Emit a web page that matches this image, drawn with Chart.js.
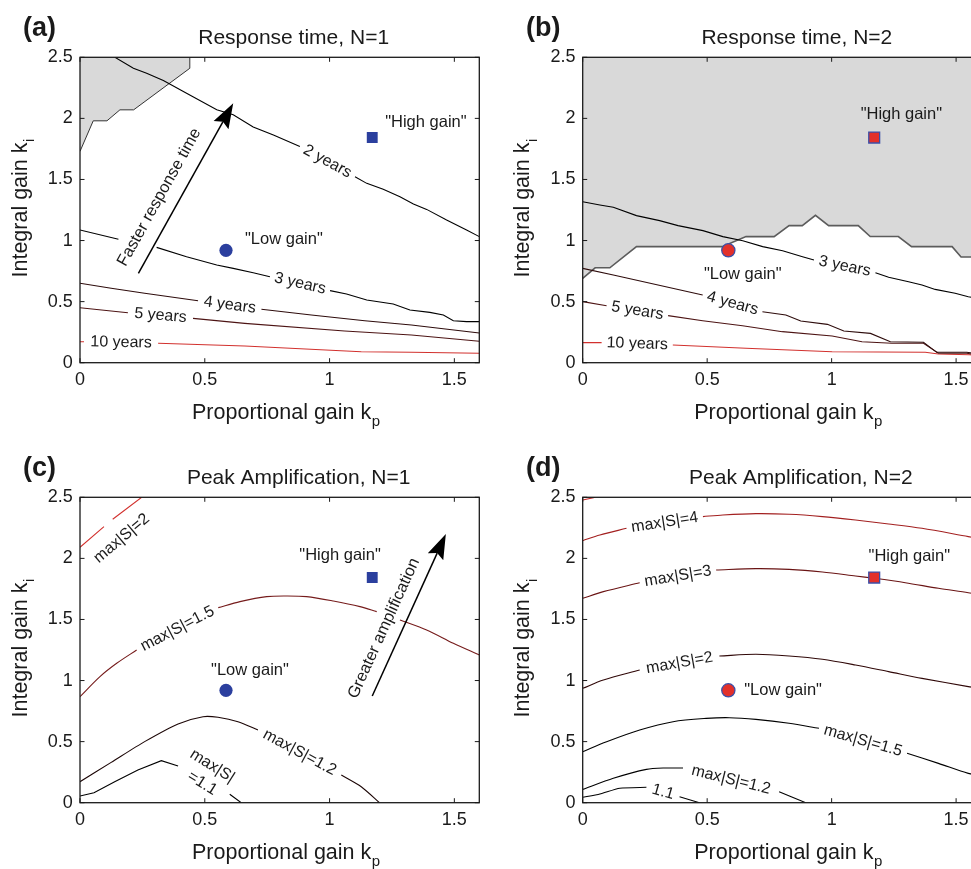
<!DOCTYPE html>
<html>
<head>
<meta charset="utf-8">
<title>Response time and peak amplification</title>
<script src="https://cdn.jsdelivr.net/npm/chart.js@4.4.1/dist/chart.umd.min.js"></script>
<style>
  html, body { margin:0; padding:0; background:#ffffff; width:971px; height:869px; overflow:hidden; position:relative; }
  canvas { position:absolute; display:block; }
</style>
</head>
<body>
<canvas id="chartA" width="490" height="440" style="left:0px;top:0px;"></canvas>
<canvas id="chartB" width="500" height="440" style="left:490px;top:0px;"></canvas>
<canvas id="chartC" width="490" height="429" style="left:0px;top:440px;"></canvas>
<canvas id="chartD" width="500" height="429" style="left:490px;top:440px;"></canvas>
<script>
// ---------------- data ----------------
const kpTicks = [0, 0.5, 1, 1.5];
const kpTickLabels = ['0', '0.5', '1', '1.5'];
const kiTicks = [0, 0.5, 1, 1.5, 2, 2.5];
const kiTickLabels = ['0', '0.5', '1', '1.5', '2', '2.5'];
const kpMin = 0, kpMax = 1.6, kiMin = 0, kiMax = 2.5;

const lowGain = [0.585, 0.92];
const highGain = [1.171, 1.843];

// (a) Response time, N=1   (null = break in the contour line)
const aUnstable = [[0,1.73],[0.053,1.98],[0.108,1.98],[0.16,2.07],[0.215,2.07],[0.44,2.41],[0.44,2.5]];
const a2years = [[0.14,2.5],[0.214,2.41],[0.267,2.37],[0.334,2.31],[0.427,2.205],[0.548,2.07],[0.614,2.03],[0.694,1.93],[0.775,1.864],[0.881,1.77],null,[1.102,1.523],[1.149,1.468],[1.215,1.419],[1.282,1.359],[1.336,1.299],[1.389,1.255],[1.469,1.168],[1.549,1.086],[1.6,1.032]];
const a3years = [[0,1.086],[0.154,1.01],null,[0.307,0.944],[0.427,0.868],[0.548,0.80],[0.614,0.772],[0.694,0.737],[0.761,0.704],null,[1.002,0.59],[1.068,0.562],[1.149,0.513],[1.255,0.48],[1.322,0.431],[1.402,0.412],[1.456,0.39],[1.496,0.344],[1.549,0.336],[1.6,0.336]];
const a4years = [[0,0.65],[0.125,0.609],[0.259,0.568],[0.473,0.507],null,[0.727,0.437],[0.927,0.39],[1.141,0.344],[1.328,0.309],[1.6,0.243]];
const a5years = [[0,0.45],[0.192,0.409],null,[0.453,0.363],[0.66,0.322],[1.06,0.259],[1.328,0.227],[1.6,0.175]];
const a10years = [[0,0.172],[0.016,0.172],null,[0.313,0.159],[0.66,0.137],[1.127,0.09],[1.328,0.085],[1.6,0.077]];

// (b) Response time, N=2
const bUnstable = [[0,0.69],[0.05,0.777],[0.109,0.777],[0.216,0.95],[0.56,0.95],[0.656,1.032],[0.769,1.032],[0.829,1.122],[0.882,1.122],[0.935,1.207],[0.988,1.122],[1.107,1.122],[1.155,1.033],[1.268,1.033],[1.321,0.95],[1.484,0.95],[1.52,0.865],[1.6,0.865]];
const b3years = [[0,1.318],[0.069,1.291],[0.123,1.272],[0.216,1.204],[0.309,1.163],[0.383,1.122],[0.483,1.081],[0.563,1.032],[0.643,0.999],[0.723,0.95],[0.803,0.917],[0.883,0.868],[0.929,0.841],null,[1.176,0.737],[1.229,0.699],[1.309,0.663],[1.363,0.636],[1.416,0.6],[1.496,0.568],[1.549,0.54],[1.6,0.522]];
const b4years = [[0,0.772],[0.123,0.718],[0.482,0.554],null,[0.722,0.417],[0.816,0.39],[0.876,0.341],[0.983,0.314],[1.049,0.259],[1.156,0.24],[1.236,0.172],[1.369,0.167],[1.422,0.085],[1.542,0.085],[1.6,0.07]];
const b5years = [[0,0.5],[0.096,0.466],null,[0.343,0.385],[0.482,0.344],[0.642,0.303],[0.802,0.254],[1.002,0.218],[1.122,0.172],[1.242,0.159],[1.369,0.159],[1.429,0.077],[1.542,0.077],[1.6,0.06]];
const b10years = [[0,0.164],[0.076,0.164],null,[0.362,0.145],[0.656,0.118],[1.002,0.09],[1.376,0.085],[1.429,0.071],[1.553,0.065],[1.6,0.058]];

// (c) Peak amplification, N=1
const cMax2 = [[0,2.091],[0.096,2.26],null,[0.131,2.32],[0.247,2.5]];
const cMax15 = [[0,0.868],[0.08,1.032],[0.147,1.141],[0.227,1.25],null,[0.554,1.597],[0.641,1.646],[0.748,1.687],[0.828,1.692],[0.908,1.687],[1.015,1.651],[1.122,1.605],[1.189,1.564],null,[1.282,1.496],[1.389,1.414],[1.496,1.305],[1.6,1.209]];
const cMax12 = [[0,0.172],[0.125,0.33],[0.259,0.5],[0.393,0.645],[0.493,0.704],[0.553,0.699],[0.633,0.663],[0.713,0.595],null,[1.047,0.227],[1.127,0.131],[1.2,0]];
const cMax11 = [[0,0.055],[0.056,0.082],[0.139,0.172],[0.232,0.268],[0.326,0.344],[0.393,0.3],null,[0.6,0.069],[0.646,0]];

// (d) Peak amplification, N=2
const dMax5 = [[0,2.478],[0.043,2.497],[0.05,2.5]];
const dMax4 = [[0,2.145],[0.069,2.192],[0.176,2.246],null,[0.483,2.342],[0.563,2.355],[0.696,2.366],[0.829,2.361],[0.963,2.342],[1.096,2.314],[1.229,2.282],[1.363,2.246],[1.549,2.178],[1.6,2.16]];
const dMax3 = [[0,1.673],[0.083,1.728],[0.229,1.801],null,[0.536,1.905],[0.696,1.916],[0.829,1.91],[0.963,1.889],[1.096,1.856],[1.171,1.837],[1.296,1.801],[1.429,1.755],[1.549,1.719],[1.6,1.70]];
const dMax2 = [[0,0.936],[0.083,1.004],[0.229,1.086],null,[0.549,1.201],[0.696,1.215],[0.829,1.201],[0.963,1.174],[1.096,1.127],[1.229,1.073],[1.363,1.018],[1.549,0.95],[1.6,0.935]];
const dMax15 = [[0,0.418],[0.096,0.499],[0.229,0.595],[0.363,0.663],[0.496,0.69],[0.589,0.696],[0.696,0.682],[0.829,0.65],[0.949,0.609],null,[1.303,0.404],[1.429,0.322],[1.549,0.24],[1.6,0.225]];
const dMax12 = [[0,0.109],[0.123,0.2],[0.256,0.273],[0.323,0.284],[0.403,0.284],null,[0.789,0.09],[0.896,0]];
const dMax11 = [[0,0.044],[0.069,0.071],[0.149,0.118],[0.256,0.126],null,[0.389,0.049],[0.469,0]];

// ---------------- drawing ----------------
const FONT = '"Liberation Sans", Arial, Helvetica, sans-serif';
Chart.defaults.font.family = FONT;

function toPts(arr) {
  const out = []; let px = 0;
  for (const p of arr) {
    if (p === null) out.push({x: px, y: null});
    else { out.push({x: p[0], y: p[1]}); px = p[0]; }
  }
  return out;
}

const panels = [
  { canvas:'chartA', tag:'(a)', title:'Response time, N=1', titleDx:14, tagX:23,
    pad:{left:0, top:57.3, right:10.7, bottom:0}, yW:80, xH:77.3,
    unstable:aUnstable, unstableLine:'#333333', unstableW:1,
    contours:[
      {pts:a2years, color:'#000000', label:'2 years', gap:0},
      {pts:a3years, color:'#000000', label:'3 years', gap:1},
      {pts:a4years, color:'#2e0c0c', label:'4 years', gap:0},
      {pts:a5years, color:'#4d1414', label:'5 years', gap:0},
      {pts:a10years, color:'#d2312e', label:'10 years', gap:0}
    ],
    mFill:'#2b3f9e', mBorder:'#2b3f9e', mBW:0,
    notes:[{t:'"High gain"', at:[1.386,1.964]}, {t:'"Low gain"', at:[0.817,1.012]}],
    arrow:{from:[0.234,0.732], to:[0.614,2.123], text:'Faster response time', at:[0.318,1.354]}
  },
  { canvas:'chartB', tag:'(b)', title:'Response time, N=2', titleDx:15, tagX:36,
    pad:{left:0, top:57.3, right:7.3, bottom:0}, yW:92.7, xH:77.3,
    unstable:bUnstable, unstableLine:'#5c5c5c', unstableW:1.6,
    contours:[
      {pts:b3years, color:'#000000', label:'3 years', gap:0},
      {pts:b4years, color:'#2e0c0c', label:'4 years', gap:0},
      {pts:b5years, color:'#4d1414', label:'5 years', gap:0},
      {pts:b10years, color:'#d2312e', label:'10 years', gap:0}
    ],
    mFill:'#e2302a', mBorder:'#3b4fa8', mBW:1.3,
    notes:[{t:'"High gain"', at:[1.28,2.033]}, {t:'"Low gain"', at:[0.643,0.726]}],
    arrow:null
  },
  { canvas:'chartC', tag:'(c)', title:'Peak Amplification, N=1', titleDx:19, tagX:23,
    pad:{left:0, top:57.3, right:10.7, bottom:0}, yW:80, xH:66.3,
    unstable:null,
    contours:[
      {pts:cMax2, color:'#d2312e', label:'max|S|=2', at:[0.167,2.164], angle:-40},
      {pts:cMax15, color:'#761c1c', label:'max|S|=1.5', gap:0, tension:0.3},
      {pts:cMax12, color:'#1c0606', label:'max|S|=1.2', gap:0, tension:0.25},
      {pts:cMax11, color:'#000000', label:'max|S|', at:[0.53,0.30], angle:32, label2:'=1.1', at2:[0.49,0.158]}
    ],
    mFill:'#2b3f9e', mBorder:'#2b3f9e', mBW:0,
    notes:[{t:'"High gain"', at:[1.042,2.028]}, {t:'"Low gain"', at:[0.681,1.086]}],
    arrow:{from:[1.171,0.873], to:[1.466,2.2], text:'Greater amplification', at:[1.218,1.427]}
  },
  { canvas:'chartD', tag:'(d)', title:'Peak Amplification, N=2', titleDx:19, tagX:36,
    pad:{left:0, top:57.3, right:7.3, bottom:0}, yW:92.7, xH:66.3,
    unstable:null,
    contours:[
      {pts:dMax5, color:'#c42a2a'},
      {pts:dMax4, color:'#a32020', label:'max|S|=4', gap:0, tension:0.3},
      {pts:dMax3, color:'#6a1414', label:'max|S|=3', gap:0, tension:0.3},
      {pts:dMax2, color:'#300808', label:'max|S|=2', gap:0, tension:0.3},
      {pts:dMax15, color:'#000000', label:'max|S|=1.5', gap:0, tension:0.3},
      {pts:dMax12, color:'#000000', label:'max|S|=1.2', gap:0, tension:0.25},
      {pts:dMax11, color:'#000000', label:'1.1', gap:0, tension:0.2}
    ],
    mFill:'#e2302a', mBorder:'#3b4fa8', mBW:1.3,
    notes:[{t:'"High gain"', at:[1.312,2.014]}, {t:'"Low gain"', at:[0.805,0.917]}],
    arrow:null
  }
];

function P2px(chart, p) {
  return [chart.scales.x.getPixelForValue(p[0]), chart.scales.y.getPixelForValue(p[1])];
}

function gapEnds(arr, k) {
  let n = -1;
  for (let i = 0; i < arr.length; i++) {
    if (arr[i] === null) { n++; if (n === k) return [arr[i-1], arr[i+1]]; }
  }
  return null;
}

function drawRotText(ctx, text, x, y, ang) {
  ctx.save(); ctx.translate(x, y); ctx.rotate(ang); ctx.fillText(text, 0, 0); ctx.restore();
}

function makeDecor(P) {
  return {
    id: 'decor',
    afterDatasetsDraw(chart) {
      const ctx = chart.ctx, ca = chart.chartArea;
      ctx.save();
      ctx.beginPath(); ctx.rect(ca.left, ca.top, ca.right - ca.left, ca.bottom - ca.top); ctx.clip();
      ctx.fillStyle = '#1a1a1a';
      ctx.textAlign = 'center'; ctx.textBaseline = 'middle';
      ctx.font = '16px ' + FONT;
      for (const c of P.contours) {
        if (!c.label) continue;
        if (c.at) {
          const [x, y] = P2px(chart, c.at);
          drawRotText(ctx, c.label, x, y, c.angle * Math.PI / 180);
          if (c.label2) {
            const [x2, y2] = P2px(chart, c.at2);
            drawRotText(ctx, c.label2, x2, y2, c.angle * Math.PI / 180);
          }
        } else {
          const g = gapEnds(c.pts, c.gap);
          const [x1, y1] = P2px(chart, g[0]), [x2, y2] = P2px(chart, g[1]);
          drawRotText(ctx, c.label, (x1 + x2) / 2, (y1 + y2) / 2, Math.atan2(y2 - y1, x2 - x1));
        }
      }
      // marker notes
      ctx.font = '16.5px ' + FONT;
      for (const n of P.notes) {
        const [x, y] = P2px(chart, n.at);
        ctx.fillText(n.t, x, y);
      }
      // arrow
      if (P.arrow) {
        const A = P.arrow;
        const [x0, y0] = P2px(chart, A.from), [x1, y1] = P2px(chart, A.to);
        const ang = Math.atan2(y1 - y0, x1 - x0);
        const cs = Math.cos(ang), sn = Math.sin(ang);
        const L = 25, W = 8.5, N = 4;
        const bx = x1 - L * cs, by = y1 - L * sn;
        ctx.strokeStyle = '#000'; ctx.lineWidth = 1.5;
        ctx.beginPath(); ctx.moveTo(x0, y0); ctx.lineTo(bx + N * cs, by + N * sn); ctx.stroke();
        ctx.fillStyle = '#000';
        ctx.beginPath();
        ctx.moveTo(x1, y1);
        ctx.lineTo(bx - sn * W, by + cs * W);
        ctx.lineTo(bx + N * cs, by + N * sn);
        ctx.lineTo(bx + sn * W, by - cs * W);
        ctx.closePath(); ctx.fill();
        ctx.fillStyle = '#1a1a1a';
        ctx.font = '16.5px ' + FONT;
        const [tx, ty] = P2px(chart, A.at);
        drawRotText(ctx, A.text, tx, ty, ang);
      }
      ctx.restore();
    },
    afterDraw(chart) {
      const ctx = chart.ctx, ca = chart.chartArea;
      const xs = chart.scales.x, ys = chart.scales.y;
      ctx.save();
      // box
      ctx.strokeStyle = '#1a1a1a'; ctx.lineWidth = 1.3;
      ctx.strokeRect(ca.left, ca.top, ca.right - ca.left, ca.bottom - ca.top);
      // inward ticks on all four sides
      ctx.lineWidth = 1; ctx.beginPath();
      const TL = 4.5;
      for (const v of kpTicks) {
        const x = xs.getPixelForValue(v);
        ctx.moveTo(x, ca.bottom); ctx.lineTo(x, ca.bottom - TL);
        ctx.moveTo(x, ca.top); ctx.lineTo(x, ca.top + TL);
      }
      for (const v of kiTicks) {
        const y = ys.getPixelForValue(v);
        ctx.moveTo(ca.left, y); ctx.lineTo(ca.left + TL, y);
        ctx.moveTo(ca.right, y); ctx.lineTo(ca.right - TL, y);
      }
      ctx.stroke();
      const cx = (ca.left + ca.right) / 2, cy = (ca.top + ca.bottom) / 2;
      ctx.fillStyle = '#1a1a1a';
      // title
      ctx.textAlign = 'center'; ctx.textBaseline = 'alphabetic';
      ctx.font = '21px ' + FONT;
      ctx.fillText(P.title, cx + P.titleDx, ca.top - 13);
      // panel tag
      ctx.textAlign = 'left';
      ctx.font = 'bold 27px ' + FONT;
      ctx.fillText(P.tag, P.tagX, ca.top - 21.3);
      // x axis label with subscript
      ctx.font = '21.5px ' + FONT;
      const mainX = 'Proportional gain k';
      const wX = ctx.measureText(mainX).width;
      const x0 = cx + 2 - wX / 2, yb = ca.bottom + 56.3;
      ctx.fillText(mainX, x0, yb);
      ctx.font = '15px ' + FONT;
      ctx.fillText('p', x0 + wX + 0.5, yb + 7);
      // y axis label with subscript
      ctx.save();
      ctx.translate(ca.left - 53.5, cy); ctx.rotate(-Math.PI / 2);
      ctx.font = '21.5px ' + FONT;
      const mainY = 'Integral gain k';
      const wY = ctx.measureText(mainY).width;
      ctx.fillText(mainY, -wY / 2, 0);
      ctx.font = '15px ' + FONT;
      ctx.fillText('i', wY / 2 + 0.5, 7.5);
      ctx.restore();
      ctx.restore();
    }
  };
}

function buildChart(P) {
  const datasets = [];
  datasets.push({ data: [{x: lowGain[0], y: lowGain[1]}], showLine: false, pointStyle: 'circle',
    pointRadius: 6.6, backgroundColor: P.mFill, borderColor: P.mBorder, borderWidth: P.mBW, order: 0 });
  datasets.push({ data: [{x: highGain[0], y: highGain[1]}], showLine: false, pointStyle: 'rect',
    pointRadius: 7.7, backgroundColor: P.mFill, borderColor: P.mBorder, borderWidth: P.mBW, order: 0 });
  for (const c of P.contours) {
    datasets.push({ data: toPts(c.pts), showLine: true, spanGaps: false, borderColor: c.color,
      borderWidth: 1.1, pointRadius: 0, fill: false, tension: c.tension || 0, order: 5 });
  }
  if (P.unstable) {
    datasets.push({ data: toPts(P.unstable), showLine: true, borderColor: P.unstableLine,
      borderWidth: P.unstableW, pointRadius: 0, fill: 'end', backgroundColor: '#d9d9d9', tension: 0, order: 10 });
  }
  return new Chart(document.getElementById(P.canvas), {
    type: 'line',
    data: { datasets },
    options: {
      responsive: false, animation: false, devicePixelRatio: 1, events: [],
      layout: { padding: P.pad },
      plugins: { legend: { display: false }, tooltip: { enabled: false }, title: { display: false } },
      elements: { point: { radius: 0, hoverRadius: 0 } },
      scales: {
        x: { type: 'linear', min: kpMin, max: kpMax,
          grid: { display: false, drawTicks: false, tickLength: 0 }, border: { display: false },
          afterBuildTicks: s => { s.ticks = kpTicks.map(v => ({ value: v })); },
          afterFit: s => { s.height = P.xH; },
          ticks: { autoSkip: false, maxRotation: 0, padding: 6.5, color: '#1a1a1a', font: { size: 18 },
            callback: (v, i) => kpTickLabels[i] } },
        y: { type: 'linear', min: kiMin, max: kiMax,
          grid: { display: false, drawTicks: false, tickLength: 0 }, border: { display: false },
          afterBuildTicks: s => { s.ticks = kiTicks.map(v => ({ value: v })); },
          afterFit: s => { s.width = P.yW; },
          ticks: { autoSkip: false, padding: 7.3, color: '#1a1a1a', font: { size: 18 },
            callback: (v, i) => kiTickLabels[i] } }
      }
    },
    plugins: [makeDecor(P)]
  });
}

panels.forEach(buildChart);
</script>
</body>
</html>
